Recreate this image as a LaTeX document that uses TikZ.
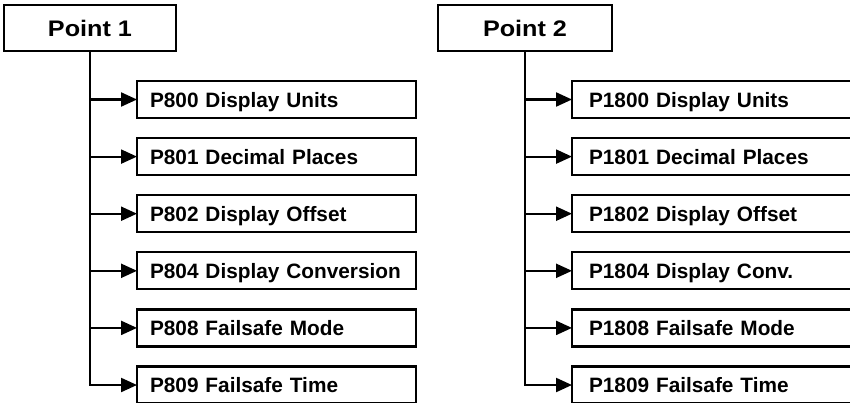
\documentclass[tikz,border=0pt]{standalone}
\usepackage{fontspec}
\newfontface\headfont{Liberation Sans Bold}[FakeStretch=1.12]
\newfontface\boxfont{Liberation Sans Bold}
\usepackage{tikz}
\usetikzlibrary{positioning, arrows.meta}

\begin{document}
\begin{tikzpicture}[x=1pt, y=-1pt, node distance=20.1pt,
    headbox/.style={rectangle, draw, line width=2.2pt, minimum width=172pt, minimum height=46pt, inner sep=0pt, outer sep=0pt, text height=16pt, text depth=0pt, font=\headfont\fontsize{22.5}{26}\selectfont},
    parambox/.style={rectangle, draw, line width=2.2pt, minimum height=37pt, inner xsep=13pt, inner ysep=0pt, outer sep=0pt, text width=253pt, align=left, text height=15pt, text depth=0pt, font=\boxfont\fontsize{20.8}{24}\selectfont},
    arrow/.style={line width=2.2pt, -{Triangle[length=16pt, width=14pt]}}]

    \clip (0,0) rectangle (850,402);

    % Point 1
    \node[headbox] (pt1) at (90,28) {Point 1};
    \node[parambox] (p800) at (276.5,99.5) {P800 Display Units};
    \node[parambox, below=of p800] (p801) {P801 Decimal Places};
    \node[parambox, below=of p801] (p802) {P802 Display Offset};
    \node[parambox, below=of p802] (p804) {P804 Display Conversion};
    \node[parambox, below=of p804] (p808) {P808 Failsafe Mode};
    \node[parambox, below=of p808] (p809) {P809 Failsafe Time};

    % Point 2
    \node[headbox, minimum width=174pt] (pt2) at (525,28) {Point 2};
    \node[parambox, inner xsep=17pt, text width=247pt] (p1800) at (712.5,99.5) {P1800 Display Units};
    \node[parambox, inner xsep=17pt, text width=247pt, below=of p1800] (p1801) {P1801 Decimal Places};
    \node[parambox, inner xsep=17pt, text width=247pt, below=of p1801] (p1802) {P1802 Display Offset};
    \node[parambox, inner xsep=17pt, text width=247pt, below=of p1802] (p1804) {P1804 Display Conv.};
    \node[parambox, inner xsep=17pt, text width=247pt, below=of p1804] (p1808) {P1808 Failsafe Mode};
    \node[parambox, inner xsep=17pt, text width=247pt, below=of p1808] (p1809) {P1809 Failsafe Time};

    % Links
    \draw[arrow] (pt1.south) |- (p800.west);
    \draw[arrow] (pt1.south) |- (p801.west);
    \draw[arrow] (pt1.south) |- (p802.west);
    \draw[arrow] (pt1.south) |- (p804.west);
    \draw[arrow] (pt1.south) |- (p808.west);
    \draw[arrow] (pt1.south) |- (p809.west);
    \draw[arrow] (pt2.south) |- (p1800.west);
    \draw[arrow] (pt2.south) |- (p1801.west);
    \draw[arrow] (pt2.south) |- (p1802.west);
    \draw[arrow] (pt2.south) |- (p1804.west);
    \draw[arrow] (pt2.south) |- (p1808.west);
    \draw[arrow] (pt2.south) |- (p1809.west);
\end{tikzpicture}
\end{document}
